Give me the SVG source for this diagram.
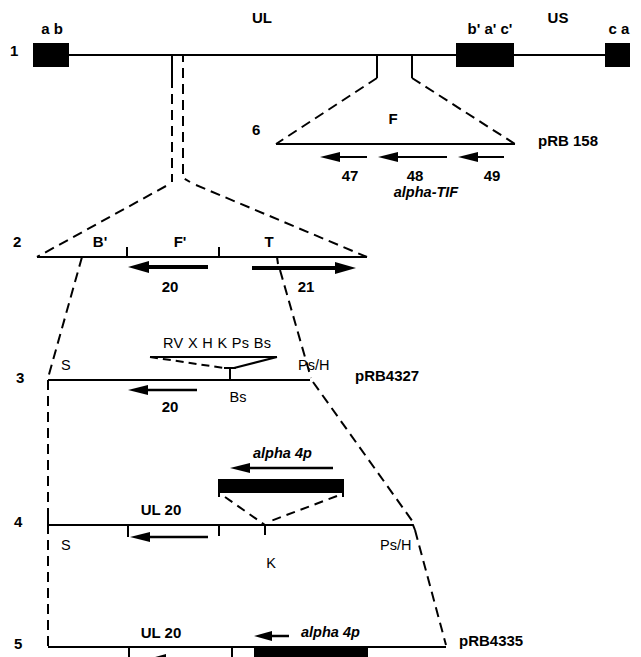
<svg xmlns="http://www.w3.org/2000/svg" width="641" height="657" viewBox="0 0 641 657">
<style>
.ln{stroke:#000;stroke-width:2;fill:none}
.ds{stroke:#000;stroke-width:2;fill:none;stroke-dasharray:10 6}
.box{fill:#000}
.ah{fill:#000;stroke:none}
.b{font-family:"Liberation Sans",Arial,sans-serif;font-weight:bold;font-size:15px;fill:#000}
.bi{font-family:"Liberation Sans",Arial,sans-serif;font-weight:bold;font-style:italic;font-size:14.5px;fill:#000}
.r{font-family:"Liberation Sans",Arial,sans-serif;font-size:14.5px;fill:#000}
.m{text-anchor:middle}
</style>
<rect width="641" height="657" fill="#fff"/>
<g id="connectors">
<path class="ln" d="M172,55 V88"/>
<path class="ds" d="M172,94 V182"/>
<path class="ds" d="M166,186 L37,257"/>
<path class="ln" d="M183,55 V62"/>
<path class="ds" d="M183,68 V178 L190,182"/>
<path class="ds" d="M196,185 L367,257"/>
<path class="ln" d="M377,55 V78"/>
<path class="ds" d="M377,78 L276,144"/>
<path class="ln" d="M412,55 V78"/>
<path class="ds" d="M412,78 L515,144"/>
<path class="ds" d="M82,257 L48,378"/>
<path class="ln" d="M277,257 L278,264"/>
<path class="ds" d="M280,270 L311,378"/>
<path class="ds" d="M48,380 V647"/>
<path class="ds" d="M313,382 L413,522"/>
<path class="ds" d="M415,530 L446,645"/>
</g>
<g id="row1">
<text class="b" x="10" y="56">1</text>
<path class="ln" d="M69,55 H605"/>
<rect class="box" x="33" y="43" width="36" height="24"/>
<rect class="box" x="456" y="43" width="58" height="24"/>
<rect class="box" x="605" y="43" width="25" height="24"/>
<text class="b m" x="52" y="34">a b</text>
<text class="b m" x="490" y="34">b' a' c'</text>
<text class="b m" x="619" y="34">c a</text>
<text class="b m" x="262" y="23">UL</text>
<text class="b m" x="558" y="23">US</text>
</g>
<g id="row6">
<text class="b" x="252" y="135">6</text>
<path class="ln" d="M276,144 H515"/>
<text class="b m" x="393" y="124">F</text>
<text class="b" x="538" y="146">pRB 158</text>
<path class="ln" d="M336,157 H367"/>
<path class="ah" d="M320,157 L340,152 L340,162 Z"/>
<path class="ln" d="M394,157 H447"/>
<path class="ah" d="M378,157 L398,152 L398,162 Z"/>
<path class="ln" d="M474,157 H504"/>
<path class="ah" d="M458,157 L478,152 L478,162 Z"/>
<text class="b m" x="350" y="181">47</text>
<text class="b m" x="415" y="181">48</text>
<text class="b m" x="492" y="181">49</text>
<text class="bi m" x="426" y="197">alpha-TIF</text>
</g>
<g id="row2">
<text class="b" x="13" y="247">2</text>
<path class="ln" d="M37,257 H367"/>
<path class="ln" d="M127,247 V257 M219,247 V257"/>
<text class="b m" x="100" y="247">B'</text>
<text class="b m" x="180" y="247">F'</text>
<text class="b m" x="269" y="247">T</text>
<path class="ln" d="M144,267 H208" style="stroke-width:4"/>
<path class="ah" d="M128,267 L149,261 L149,273 Z"/>
<path class="ln" d="M252,268 H340" style="stroke-width:4"/>
<path class="ah" d="M356,268 L335,262 L335,274 Z"/>
<text class="b m" x="170" y="292">20</text>
<text class="b m" x="306" y="292">21</text>
</g>
<g id="row3">
<text class="b" x="16" y="383">3</text>
<path class="ln" d="M48,380 H310"/>
<path class="ln" d="M48,380 V387"/>
<text class="r" x="163" y="348" textLength="108">RV X H K Ps Bs</text>
<path class="ln" d="M150,357 H277"/>
<path class="ds" d="M150,357 L224,368" style="stroke-dasharray:8 5"/>
<path class="ln" d="M277,357 L234,368 M224,368 H236 M230,368 V380"/>
<text class="r" x="61" y="370">S</text>
<text class="r" x="298" y="370">Ps/H</text>
<text class="b" x="355" y="381">pRB4327</text>
<path class="ln" d="M144,390 H197" style="stroke-width:2.5"/>
<path class="ah" d="M128,390 L148,385 L148,395 Z"/>
<text class="b m" x="170" y="412">20</text>
<text class="r m" x="238" y="402">Bs</text>
</g>
<g id="row4">
<text class="b" x="14" y="527">4</text>
<path class="ln" d="M48,525 H413 L415,530"/>
<path class="ln" d="M48,518 V525"/>
<path class="ln" d="M128,525 V537 M219,525 V536 M265,525 V535"/>
<path class="ln" d="M146,537 H208" style="stroke-width:2.5"/>
<path class="ah" d="M130,537 L150,532 L150,542 Z"/>
<text class="b m" x="161" y="515">UL 20</text>
<text class="r" x="61" y="550">S</text>
<text class="r m" x="271" y="568">K</text>
<text class="r" x="380" y="550">Ps/H</text>
<rect class="box" x="218" y="479" width="126" height="14"/>
<path class="ln" d="M219,490 V497 M343,490 V497"/>
<path class="ds" d="M225,497 L265,525" style="stroke-dasharray:9 6"/>
<path class="ds" d="M337,496 L268,522" style="stroke-dasharray:9 6"/>
<path class="ln" d="M246,468 H333" style="stroke-width:2.5"/>
<path class="ah" d="M230,468 L250,463 L250,473 Z"/>
<text class="bi" x="253" y="458">alpha  4p</text>
</g>
<g id="row5">
<text class="b" x="14" y="649">5</text>
<path class="ln" d="M48,647 H446"/>
<path class="ln" d="M129,647 V657 M232,647 V657"/>
<rect class="box" x="254" y="648" width="114" height="9"/>
<path class="ah" d="M148,659 L166,654 L166,664 Z"/>
<text class="b m" x="161" y="638">UL 20</text>
<path class="ln" d="M268,636 H289" style="stroke-width:2.5"/>
<path class="ah" d="M254,636 L272,631 L272,641 Z"/>
<text class="bi" x="301" y="637">alpha  4p</text>
<text class="b" x="459" y="646">pRB4335</text>
</g>
</svg>
